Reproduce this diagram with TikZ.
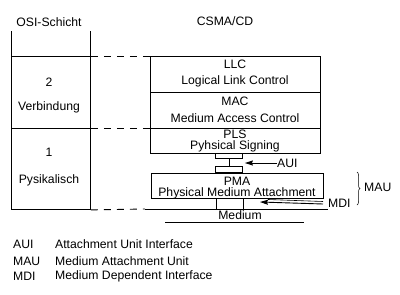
\documentclass[tikz,border=0pt]{standalone}
\usepackage{fontspec}
\setmainfont{Liberation Sans}
\usetikzlibrary{arrows.meta,decorations.pathreplacing}
\begin{document}
\begin{tikzpicture}[x=1pt,y=-1pt,
  font=\fontsize{12.2}{14}\selectfont,
  ln/.style={line width=0.9pt},
  box/.style={draw,line width=0.9pt,inner sep=0pt,anchor=north west,align=center},
  lbl/.style={inner sep=0pt},
  dsh/.style={line width=0.9pt,dash pattern=on 7pt off 6pt},
  arr/.style={line width=0.9pt,-{Stealth[length=8pt,width=5pt,inset=1pt]}}]
\useasboundingbox (0,0) rectangle (400,295);
% OSI column
\node[lbl] (osi) at (49,22) {OSI-Schicht};
\node[box,minimum width=79pt,minimum height=72pt] (l2) at (11,56) {};
\node[box,minimum width=79pt,minimum height=81pt] (l1) at (11,128) {};
\node[lbl] at (49,82) (n2) {2};
\node[lbl] at (49,107) (v2) {Verbindung};
\node[lbl] at (49,152) (n1) {1};
\node[lbl] at (49,180) (v1) {Pysikalisch};
\draw[ln] (l2.north west) -- ++(0,-25) coordinate (tl);
\draw[ln] (l2.north east) -- ++(0,-25) coordinate (tr);
% CSMA/CD stack
\node[lbl] (csma) at (225,21) {CSMA/CD};
\node[box,minimum width=170pt,minimum height=36pt] (llc) at (150,56) {};
\node[lbl] at (235,64) (llc1) {LLC};
\node[lbl] at (235,81) (llc2) {Logical Link Control};
\node[box,minimum width=170pt,minimum height=36pt] (mac) at (150,92) {};
\node[lbl] at (235,101) (mac1) {MAC};
\node[lbl] at (235,118) (mac2) {Medium Access Control};
\node[box,minimum width=170pt,minimum height=25pt] (pls) at (150,128) {};
\node[lbl] at (235,134) (pls1) {PLS};
\node[lbl] at (235,146) (pls2) {Pyhsical Signing};
% AUI connector
\node[box,minimum width=27pt,minimum height=5pt] (c1) at (215,153) {};
\node[box,minimum width=27pt,minimum height=6pt] (c2) at (215,166) {};
\draw[ln] (c1.south) -- (c2.north);
\node[box,minimum width=172pt,minimum height=25pt] (pma) at (151,173) {};
\node[lbl] at (237,181) (pma1) {PMA};
\node[lbl] at (237,193) (pma2) {Physical Medium Attachment};
% medium
\coordinate (medL) at (145,209);
\coordinate (medR) at (328,209);
\draw[ln] (medL) -- (medR);
\draw[ln] ([xshift=1pt]pma.south -| c2.west) -- ([xshift=1pt]c2.west |- medL);
\draw[ln] ([xshift=1pt]pma.south -| c2.east) -- ([xshift=1pt]c2.east |- medL);
\node[lbl] (med) at (240,215.5) {Medium};
\coordinate (m2L) at (165,222);
\coordinate (m2R) at (304,222);
\draw[ln] (m2L) -- (m2R);
% dashed links
\draw[dsh] (l2.north east) -- (llc.north west);
\draw[dsh] (l1.north east) -- (pls.north west);
\draw[dsh] (l1.south east) -- (medL);
% AUI / MDI labels and arrows
\node[lbl,anchor=west] (aui) at (277,163) {AUI};
\draw[arr] (aui.west) -- ([xshift=2pt]c1.east |- aui.west);
\node[lbl,anchor=west] (mdi) at (328,203) {MDI};
\coordinate (mtip) at (260,202);
\draw[arr] ([xshift=-5pt,yshift=-1pt]mdi.west) -- (mtip);
\draw[line width=0.6pt] ([xshift=8pt,yshift=2.5pt]mtip) -- ([xshift=-5pt,yshift=1.5pt]mdi.west);
% brace
\coordinate (bT) at (357,172);
\coordinate (bB) at (357,205);
\draw[line width=0.5pt,decorate,decoration={brace,amplitude=3pt}] (bT) -- (bB);
\node[lbl,anchor=west] (mau) at (364,187) {MAU};
% legend
\node[lbl,anchor=west] (k1) at (13,244) {AUI};
\node[lbl,anchor=west] (k2) at (13,261) {MAU};
\node[lbl,anchor=west] (k3) at (13,276) {MDI};
\node[lbl,anchor=west] (d1) at (55,244) {Attachment Unit Interface};
\node[lbl,anchor=west] (d2) at (55,261) {Medium Attachment Unit};
\node[lbl,anchor=west] (d3) at (55,276) {Medium Dependent Interface};
\end{tikzpicture}
\end{document}
